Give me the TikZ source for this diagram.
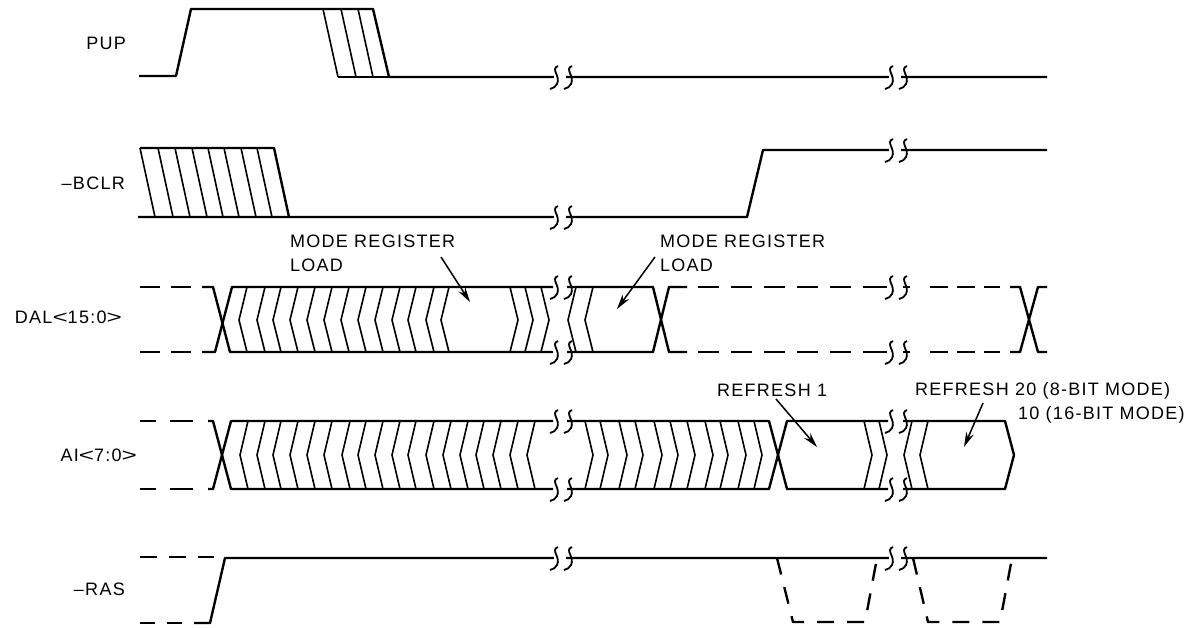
\documentclass[tikz,border=0pt]{standalone}
\usepackage{fontspec}
\setmainfont[LetterSpace=7]{Liberation Sans}
\usetikzlibrary{arrows.meta}
\usetikzlibrary{positioning}

% break mark on a signal line
\newcommand{\brk}[2]{
	\fill[white] (#1+1,#2-3) rectangle (#1+13,#2+3);
	\foreach \u in {0,14} {
		\draw[b] (#1+\u+5,#2-11) .. controls (#1+\u-3,#2-8) and (#1+\u+8,#2-1) .. (#1+\u+4,#2+7) .. controls (#1+\u+3,#2+10) and (#1+\u,#2+11) .. (#1+\u-3,#2+12);
	}
}
% wide angle brackets of the bus names
\newcommand{\wlt}{\scalebox{1.45}[1]{<}}
\newcommand{\wgt}{\scalebox{1.45}[1]{>}}

\begin{document}
\begin{tikzpicture}[x=1pt, y=-1pt,
		w/.style = {line width=2.4pt, line join=round},
		h/.style = {line width=1.6pt},
		b/.style = {line width=1.8pt},
		d/.style = {w, dash pattern=on 20pt off 11pt},
		e/.style = {w, dash pattern=on 17pt off 13pt},
		a/.style = {-{Stealth[length=15pt, width=8pt]}, line width=1.5pt},
		l/.style = {inner sep=0pt, font=\fontsize{18}{24}\selectfont},
		s/.style = {l, anchor=east}
		]
	\useasboundingbox (0,0) rectangle (1189,628);

	%Signal names
	\node[s]	(pup)	at	(126, 43)	{PUP};
	\node[s]	(bclr)	at	(125, 183)	{--BCLR};
	\node[s]	(dal)	at	(122, 317)	{DAL\wlt15:0\wgt};
	\node[s]	(ai)	at	(137, 455)	{AI\wlt7:0\wgt};
	\node[s]	(ras)	at	(125, 589)	{--RAS};

	%Labels
	\node[l, anchor=west]	(mode1)	at	(290, 241)	{MODE REGISTER};
	\node[l, anchor=west]	(load1)	at	(290, 265)	{LOAD};
	\node[l, anchor=west]	(mode2)	at	(660, 241)	{MODE REGISTER};
	\node[l, anchor=west]	(load2)	at	(660, 265)	{LOAD};
	\node[l, anchor=west]	(ref1)	at	(717, 390)	{REFRESH 1};
	\node[l, anchor=west]	(ref2)	at	(915, 391)	{REFRESH 20 (8-BIT MODE)};
	\node[l, anchor=west]	(ref3)	at	(1018, 415)	{10 (16-BIT MODE)};

	%Arrow ends
	\coordinate	(m1)	at	(441, 257);
	\coordinate	(m1e)	at	(470, 302);
	\coordinate	(m2)	at	(655, 257);
	\coordinate	(m2e)	at	(617, 309);
	\coordinate	(r1)	at	(776, 399);
	\coordinate	(r1e)	at	(817, 447);
	\coordinate	(r2)	at	(983, 403);
	\coordinate	(r2e)	at	(964, 447);
	\draw[a]	(m1)	--	(m1e);
	\draw[a]	(m2)	--	(m2e);
	\draw[a]	(r1)	--	(r1e);
	\draw[a]	(r2)	--	(r2e);

	%PUP
	\draw[w]	(139, 76) -- (176, 76) -- (191, 9) -- (373, 9) -- (389, 77) -- (1047, 77);
	\draw[h]	(323, 9) -- (338, 77);
	\draw[w]	(338, 77) -- (389, 77);
	\foreach \x in {341, 358}
		\draw[h]	(\x, 9) -- (\x+15, 77);
	\brk{553}{77}
	\brk{888}{77}

	%BCLR
	\draw[w]	(140, 148) -- (274, 148) -- (289, 217);
	\draw[w]	(138, 217) -- (747, 217) -- (763, 150) -- (1047, 150);
	\foreach \x in {140, 158, 175, 192, 208, 224, 241, 257}
		\draw[h]	(\x, 148) -- (\x+15, 217);
	\brk{553}{217}
	\brk{888}{150}

	%DAL
	\draw[d]	(140, 287) -- (195, 287);
	\draw[d]	(140, 352) -- (195, 352);
	\draw[w]	(202, 287) -- (213, 287) -- (230, 352) -- (553, 352);
	\draw[w]	(202, 352) -- (215, 352) -- (232, 287) -- (553, 287);
	\foreach \x in {239, 257, 273, 290, 307, 324, 341, 358, 375, 392, 408, 426, 441, 568, 585}
		\draw[h]	(\x+8, 287) -- (\x, 320) -- (\x+8, 352);
	\foreach \x in {518, 533, 549}
		\draw[h]	(\x-8, 287) -- (\x, 320) -- (\x-8, 352);
	\draw[w]	(567, 287) -- (653, 287) -- (669, 352) -- (687, 352);
	\draw[w]	(567, 352) -- (653, 352) -- (669, 287) -- (687, 287);
	\draw[d, dash pattern=on 21pt off 12pt]	(698, 287) -- (887, 287);
	\draw[d, dash pattern=on 21pt off 12pt]	(698, 352) -- (887, 352);
	\draw[w]	(865, 287) -- (887, 287);
	\draw[w]	(865, 352) -- (887, 352);
	\draw[w]	(903, 287) -- (910, 287);
	\draw[w]	(903, 352) -- (910, 352);
	\draw[d, dash pattern=on 18pt off 9pt]	(930, 287) -- (1000, 287);
	\draw[d, dash pattern=on 18pt off 9pt]	(930, 352) -- (1000, 352);
	\draw[w]	(1010, 287) -- (1020, 287) -- (1038, 352) -- (1047, 352);
	\draw[w]	(1010, 352) -- (1020, 352) -- (1038, 287) -- (1047, 287);
	\brk{553}{287}
	\brk{553}{352}
	\brk{888}{287}
	\brk{888}{352}

	%AI
	\draw[d, dash pattern=on 16pt off 14pt on 23pt off 15pt]	(140, 421) -- (195, 421);
	\draw[d, dash pattern=on 16pt off 14pt on 23pt off 15pt]	(140, 489) -- (195, 489);
	\draw[w]	(208, 421) -- (213, 421) -- (231, 489) -- (553, 489);
	\draw[w]	(208, 489) -- (213, 489) -- (231, 421) -- (553, 421);
	\foreach \x in {240, 257, 273, 290, 307, 324, 342, 358, 375, 392, 408, 426, 443, 460, 476, 493, 510, 527, 904, 920}
		\draw[h]	(\x+8, 421) -- (\x, 455) -- (\x+8, 489);
	\foreach \x in {593, 608, 627, 643, 662, 678, 695, 713, 728, 746, 762, 872, 887}
		\draw[h]	(\x-8, 421) -- (\x, 455) -- (\x-8, 489);
	\draw[w]	(567, 421) -- (769, 421) -- (787, 489) -- (888, 489);
	\draw[w]	(567, 489) -- (769, 489) -- (787, 421) -- (888, 421);
	\draw[w]	(903, 421) -- (1005, 421) -- (1014, 455) -- (1005, 489) -- (903, 489);
	\brk{553}{421}
	\brk{553}{489}
	\brk{888}{421}
	\brk{888}{489}

	%RAS
	\draw[d, dash pattern=on 17pt off 12pt]	(140, 557) -- (214, 557);
	\draw[d, dash pattern=on 15pt off 12pt]	(140, 623) -- (190, 623);
	\draw[w]	(194, 623) -- (210, 623) -- (225, 558) -- (1047, 558);
	\draw[e]	(777, 558) -- (793, 622) -- (865, 622) -- (877, 558);
	\draw[e]	(913, 558) -- (928, 622) -- (1000, 622) -- (1012, 558);
	\brk{553}{558}
	\brk{888}{558}
\end{tikzpicture}
\end{document}
